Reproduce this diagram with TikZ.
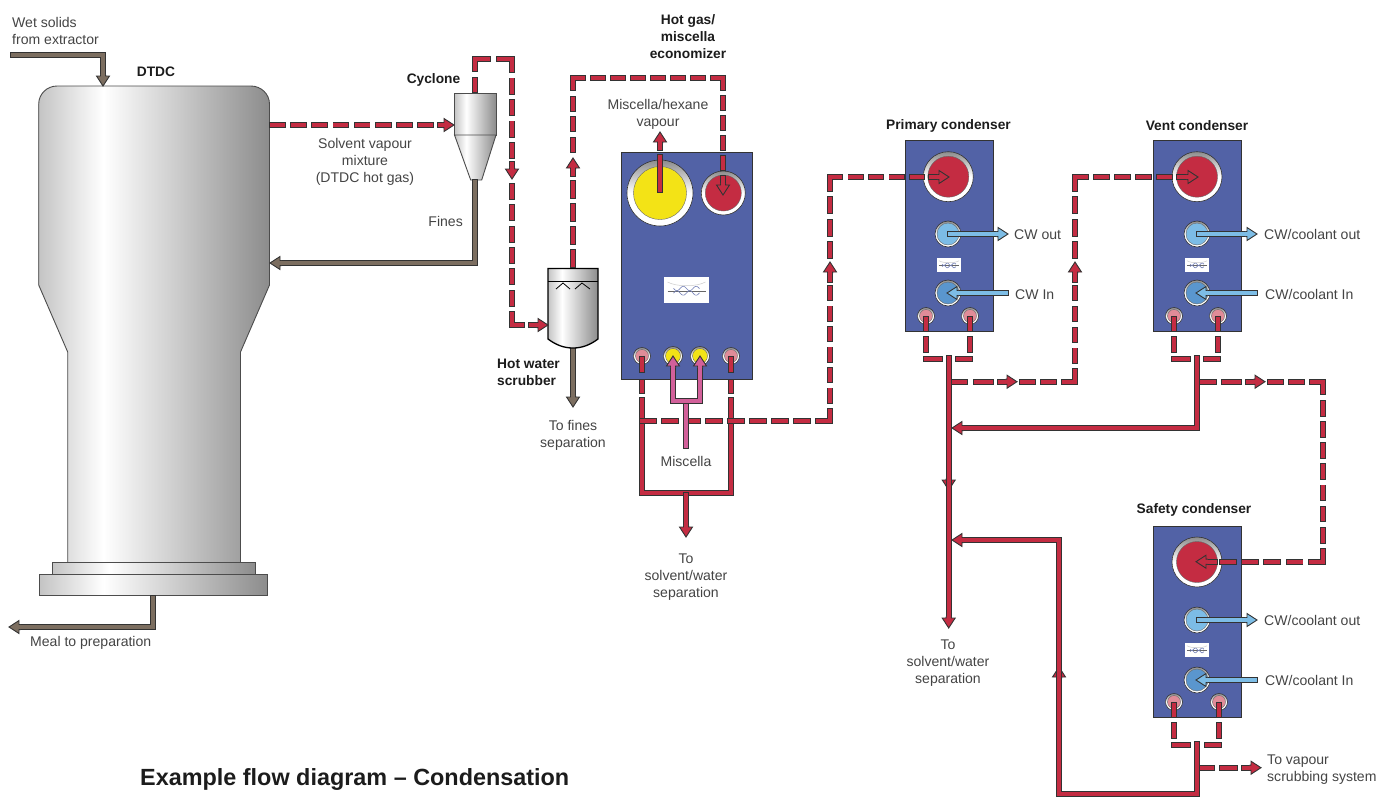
\documentclass[tikz,border=0pt]{standalone}
\usepackage{fontspec}
\setmainfont{Liberation Sans}
\usetikzlibrary{calc}
\definecolor{pred}{HTML}{C42C42}
\definecolor{pedge}{HTML}{333333}
\definecolor{pbrown}{HTML}{7C6E60}
\definecolor{pblue}{HTML}{7DBDE6}
\definecolor{ppink}{HTML}{D2609A}
\definecolor{panelblue}{HTML}{5262A6}
\definecolor{pyellow}{HTML}{F3E316}
\definecolor{portcw}{HTML}{7CBCE6}
\definecolor{portin}{HTML}{5A96CE}
\definecolor{portpink}{HTML}{E08C98}
\definecolor{txtgrey}{HTML}{444444}
\definecolor{txtdark}{HTML}{1C1C1C}
\definecolor{m1}{HTML}{C4C4C4}
\definecolor{m3}{HTML}{8C8C8C}
\definecolor{ringdark}{HTML}{8C8C8C}
\pgfdeclarehorizontalshading{metal}{100bp}{color(0bp)=(m1);color(25bp)=(m1);color(39bp)=(white);color(75bp)=(m3);color(100bp)=(m3)}
\tikzset{
  lbl/.style={font=\fontsize{14.05}{17}\selectfont,text=txtgrey,align=center,inner sep=0pt,yshift=-1.6pt},
  lbll/.style={lbl,align=left},
  lblb/.style={lbl,font=\fontsize{13.75}{17}\selectfont\bfseries,text=txtdark},
  panel/.style={rectangle,draw=pedge,line width=0.8pt,fill=panelblue,inner sep=0pt},
  logobox/.style={rectangle,fill=white,inner sep=0pt},
  metalbody/.style={draw=black!70,line width=0.9pt,shading=metal},
  ringnode/.style={circle,draw=pedge,line width=0.6pt,inner sep=0pt,top color=ringdark,bottom color=white,middle color=white},
  innernode/.style={circle,draw=black!60,line width=0.4pt,inner sep=0pt},
  pipeo/.style={draw=pedge,line width=6pt,line join=miter,shorten <=-0.9pt,shorten >=-0.9pt},
  pipei/.style={line width=4.2pt,line join=miter},
  heads/.style={draw=pedge,line width=0.9pt,line join=miter}
}
% solid pipe: outline, then core
\newcommand\pipe[2]{\draw[pipeo] #2; \draw[pipei,draw=#1] #2;}
% one dashed stretch fitted between two named points
\newcommand\dseg[4]{%
  \path let \p1=($(#2)-(#1)$),\n1={veclen(\x1,\y1)} in \pgfextra{\pgfmathsetmacro\tmpl{\n1}\xdef\dlen{\tmpl}};
  \pgfmathsetmacro\dn{max(1,round((\dlen+10.5)/21))}%
  \pgfmathsetmacro\dvis{(\dlen+6-(\dn-1)*4.5)/\dn}%
  \pgfmathsetmacro\don{max(0.1,\dvis-6)}%
  \draw[line cap=rect,line join=miter,draw=#3,line width=#4pt,dash pattern=on \don pt off 10.5pt] (#1)--(#2);
}
\newcommand\dpipe[1]{%
  \foreach \sa/\sb in {#1}{\dseg{\sa}{\sb}{pedge}{6}}%
  \foreach \sa/\sb in {#1}{\dseg{\sa}{\sb}{pred}{4.2}}%
}
% arrow head: tip at a named point
\newcommand\ahead[3]{\filldraw[heads,fill=#1,shift={(#2)},rotate=#3] (-11.5,-2.55)--(-10,-2.55)--(-10,-6.5)--(0,0)--(-10,6.5)--(-10,2.55)--(-11.5,2.55);}
% port
\newcommand\port[5]{\node (#1) [ringnode,minimum size=#3pt] at (#2) {}; \node (#1i) [innernode,fill=#5,minimum size=#4pt] at (#2) {};}
% logo
\newcommand\logo[5]{%
  \node (#1) [logobox,minimum width=#3pt,minimum height=#4pt] at (#2) {};
  \begin{scope}[shift={(#1)},scale=#5]
    \draw[black!20,line width=0.5pt] (-19,-8) .. controls (-10,-3) and (10,-3) .. (19,-8);
    \draw[black!60,line width=0.6pt] (-19,1)--(19,1);
    \draw[panelblue!80,line width=0.6pt] plot[domain=-13:13,samples=40] (\x,{-1.5+2.2*sin(\x*28)});
    \draw[panelblue!80,line width=0.6pt] plot[domain=-13:13,samples=40] (\x,{3-2.2*sin(\x*28)});
  \end{scope}}
\begin{document}
\begin{tikzpicture}[x=1pt,y=-1pt]
\useasboundingbox (0,0) rectangle (1392,796);
\foreach \cn/\cx/\cy in {
 wet0/11/55, wet1/103/55, wet2/103/80, wetT/103/86,
 fin0/475/180, fin1/475/263, fin2/276/263, finT/270/263,
 scb0/573/348, scb1/573/400, scbT/573/407,
 mea0/153/596, mea1/153/627, mea2/16/627, meaT/9/627,
 hg0/272/125, hg1/431/125, hg2/438/125, hg3/448/125, hgT/454/125,
 cy0/475/90, cy1/475/59, cy2/512/59, cy3/512/156, cy4/512/162, cy5/512/173, cyT/512/179, cy6/512/186, cy7/512/325, cy8/522/325, cy9/529/325, cy10/542/325, cyS/548/325,
 sc0/573/265, sc1/573/183, sc2/573/176, sc3/573/164, scT/573/158, sc4/573/150, sc5/573/78, sc6/723/78, sc7/723/188, scE/723/195,
 yo0/660/192, yo1/660/155, yo2/660/150, yo3/660/137, yoT/660/132,
 el0/642/357, el1/642/372, el2/642/380, el3/642/393, el4/642/398, el5/642/493,
 er0/731/357, er1/731/372, er2/731/380, er3/731/393, er4/731/398, er5/731/493,
 em0/686/493, em1/686/530, emT/686/537,
 eh0/642/421, eh1/830/421, eh2/830/288, eh3/830/282, eh4/830/268, ehT/830/262, eh5/830/256, eh6/830/177, eh7/922/177, eh8/929/177, eh9/943/177, ehE/949/177,
 mi0/686/448, mi1/686/401, mi2/673/401, mi3/700/401, mi4/673/362, mi5/700/362, mi6/673/356, mi7/700/356,
 pa0/926/317, pa1/926/331, pa2/926/337, pa3/926/352, pb0/970/317, pb1/970/331, pb2/970/337, pb3/970/352,
 pc0/924/359, pc1/942/359, pd0/956/359, pd1/972/359,
 pm0/948.7/356, pm1/948.7/622, pmT/948.7/628, pmM/948.7/490,
 pr0/950/381.7, pr1/991/381.7, pr2/998/381.7, pr3/1011/381.7, prT/1017/381.7, pr4/1022/381.7, pr5/1075/381.7, pr6/1075/288, pr7/1075/282, pr8/1075/268, prU/1075/262, pr9/1075/256, pr10/1075/177, pr11/1170/177, pr12/1177/177, pr13/1192/177, prE/1198/177,
 va0/1174/317, va1/1174/331, va2/1174/337, va3/1174/352, vb0/1218/317, vb1/1218/331, vb2/1218/337, vb3/1218/352,
 vc0/1172/359, vc1/1190/359, vd0/1204/359, vd1/1220/359,
 vm0/1197/356, vm1/1197/428, vm2/958/428, vmT/952/428,
 vr0/1199/381.7, vr1/1239/381.7, vr2/1246/381.7, vr3/1259/381.7, vrT/1265/381.7, vr4/1270/381.7, vr5/1322.7/381.7, vr6/1322.7/561.7, vr7/1222/561.7, vr8/1217/561.7, vr9/1202/561.7, vrE/1196/561.7,
 sa0/1174/703, sa1/1174/717, sa2/1174/723, sa3/1174/738, sb0/1219/703, sb1/1219/717, sb2/1219/723, sb3/1219/738,
 sc20/1172/745, sc21/1190/745, sd0/1205/745, sd1/1221/745,
 sm0/1197/742, sm1/1197/794, sm2/1059/794, sm3/1059/540, sm4/958/540, smT/952/540, smU/1059/667,
 sr0/1199/767.7, sr1/1235/767.7, sr2/1242/767.7, sr3/1255/767.7, srT/1261/767.7,
 po1a/948/234, po1b/1002/234, po1T/1008/234, pi1a/1008/293, pi1b/953/293, pi1T/947/293,
 po2a/1197/234, po2b/1251/234, po2T/1257/234, pi2a/1257/293, pi2b/1202/293, pi2T/1196/293,
 po3a/1197/620, po3b/1251/620, po3T/1257/620, pi3a/1257/680, pi3b/1202/680, pi3T/1196/680
}{\coordinate (\cn) at (\cx,\cy);}

%% DTDC vessel
\path[metalbody] (38.7,104) .. controls (38.7,94) and (47,86) .. (57,86) -- (251,86) .. controls (261,86) and (269.5,94) .. (269.5,104)
  -- (269.5,285) -- (240.5,352) -- (240.5,563) -- (67.7,563) -- (67.7,352) -- (38.7,285) -- cycle;
\path[metalbody] (52.3,562.7) rectangle (255.7,574.5);
\path[metalbody] (39.7,574.5) rectangle (267.7,595.3);

%% cyclone
\path[metalbody] (454.5,93) rectangle (496,135);
\path[metalbody] (454.5,135) -- (496,135) -- (481.7,180) -- (470.7,180) -- cycle;

%% brown pipes
\pipe{pbrown}{(wet0) -- (wet1) -- (wet2)} \ahead{pbrown}{wetT}{270}
\pipe{pbrown}{(fin0) -- (fin1) -- (fin2)} \ahead{pbrown}{finT}{180}
\pipe{pbrown}{(scb0) -- (scb1)} \ahead{pbrown}{scbT}{270}
\pipe{pbrown}{(mea0) -- (mea1) -- (mea2)} \ahead{pbrown}{meaT}{180}

%% scrubber
\path[metalbody,draw=black,line width=1.3pt] (548,268.5) -- (598,268.5) -- (598,339) .. controls (590,345) and (582,348) .. (573,348) .. controls (564,348) and (556,345) .. (548,339) -- cycle;
\draw[black,line width=1.1pt] (548,281.7) -- (598,281.7);
\draw[black,line width=0.8pt] (556,289) -- (563,283) -- (570,289) (575,289) -- (582,283) -- (590,289);

%% plate heat exchangers
\node (econ) [panel,minimum width=130.5pt,minimum height=227pt] at (686.7,265.5) {};
\node (prim) [panel,minimum width=88pt,minimum height=191pt] at (949,235.5) {};
\node (vent) [panel,minimum width=88pt,minimum height=191pt] at (1197.5,235.5) {};
\node (safe) [panel,minimum width=88pt,minimum height=191pt] at (1197,621.5) {};

\logo{lg1}{686.5,290}{45}{26}{1}
\logo{lg2}{949,265}{24}{14}{0.53}
\logo{lg3}{1197,265}{24}{14}{0.53}
\logo{lg4}{1197,650}{24}{14}{0.53}

\port{ey}{660,193}{66}{53}{pyellow}
\port{er}{723.3,193}{44}{36}{pred}
\port{e1}{642,356}{17}{13}{portpink}
\port{e2}{673,356}{19}{15}{pyellow}
\port{e3}{700,356}{19}{15}{pyellow}
\port{e4}{731,356}{17}{13}{portpink}

\port{p1}{948.3,176.7}{50}{41}{pred}
\port{p2}{948,234}{26}{22}{portcw}
\port{p3}{948,293}{26}{22}{portin}
\port{p4}{926,316}{17}{13}{portpink}
\port{p5}{970,316}{17}{13}{portpink}

\port{v1}{1197,176.7}{50}{41}{pred}
\port{v2}{1197,234}{26}{22}{portcw}
\port{v3}{1197,293}{26}{22}{portin}
\port{v4}{1174,316}{17}{13}{portpink}
\port{v5}{1218,316}{17}{13}{portpink}

\port{s1}{1197,562}{50}{41}{pred}
\port{s2}{1197,620}{26}{22}{portcw}
\port{s3}{1197,680}{26}{22}{portin}
\port{s4}{1174,702}{17}{13}{portpink}
\port{s5}{1219,702}{17}{13}{portpink}

%% cooling water
\pipe{pblue}{(po1a) -- (po1b)} \ahead{pblue}{po1T}{0}
\pipe{pblue}{(pi1a) -- (pi1b)} \ahead{pblue}{pi1T}{180}
\pipe{pblue}{(po2a) -- (po2b)} \ahead{pblue}{po2T}{0}
\pipe{pblue}{(pi2a) -- (pi2b)} \ahead{pblue}{pi2T}{180}
\pipe{pblue}{(po3a) -- (po3b)} \ahead{pblue}{po3T}{0}
\pipe{pblue}{(pi3a) -- (pi3b)} \ahead{pblue}{pi3T}{180}

%% vapour: DTDC to cyclone to scrubber to economizer
\dpipe{hg0/hg1}
\pipe{pred}{(hg2) -- (hg3)} \ahead{pred}{hgT}{0}
\dpipe{cy0/cy1,cy1/cy2,cy2/cy3}
\pipe{pred}{(cy4) -- (cy5)} \ahead{pred}{cyT}{270}
\dpipe{cy6/cy7,cy7/cy8}
\pipe{pred}{(cy9) -- (cy10)} \ahead{pred}{cyS}{0}
\dpipe{sc0/sc1}
\pipe{pred}{(sc2) -- (sc3)} \ahead{pred}{scT}{90}
\dpipe{sc4/sc5,sc5/sc6,sc6/sc7}
\ahead{pred}{scE}{270}
\pipe{pred}{(yo0) -- (yo1)}
\pipe{pred}{(yo2) -- (yo3)} \ahead{pred}{yoT}{90}

%% economizer bottom
\pipe{pred}{(el0) -- (el1)} \pipe{pred}{(el2) -- (el3)}
\pipe{pred}{(er0) -- (er1)} \pipe{pred}{(er2) -- (er3)}
\pipe{pred}{(el4) -- (el5) -- (er5) -- (er4)}
\pipe{pred}{(em0) -- (em1)} \ahead{pred}{emT}{270}
\dpipe{eh0/eh1,eh1/eh2}
\pipe{pred}{(eh3) -- (eh4)} \ahead{pred}{ehT}{90}
\dpipe{eh5/eh6,eh6/eh7}
\pipe{pred}{(eh8) -- (eh9)} \ahead{pred}{ehE}{0}

%% miscella
\pipe{ppink}{(mi0) -- (mi1)}
\pipe{ppink}{(mi4) -- (mi2) -- (mi3) -- (mi5)}
\ahead{ppink}{mi6}{90}
\ahead{ppink}{mi7}{90}

%% primary condenser outlet
\pipe{pred}{(pa0) -- (pa1)} \pipe{pred}{(pa2) -- (pa3)}
\pipe{pred}{(pb0) -- (pb1)} \pipe{pred}{(pb2) -- (pb3)}
\pipe{pred}{(pc0) -- (pc1)} \pipe{pred}{(pd0) -- (pd1)}
\ahead{pred}{pmM}{270}
\dpipe{pr0/pr1}
\pipe{pred}{(pm0) -- (pm1)} \ahead{pred}{pmT}{270}
\pipe{pred}{(pr2) -- (pr3)} \ahead{pred}{prT}{0}
\dpipe{pr4/pr5,pr5/pr6}
\pipe{pred}{(pr7) -- (pr8)} \ahead{pred}{prU}{90}
\dpipe{pr9/pr10,pr10/pr11}
\pipe{pred}{(pr12) -- (pr13)} \ahead{pred}{prE}{0}

%% vent condenser outlet
\pipe{pred}{(va0) -- (va1)} \pipe{pred}{(va2) -- (va3)}
\pipe{pred}{(vb0) -- (vb1)} \pipe{pred}{(vb2) -- (vb3)}
\pipe{pred}{(vc0) -- (vc1)} \pipe{pred}{(vd0) -- (vd1)}
\dpipe{vr0/vr1}
\pipe{pred}{(vm0) -- (vm1) -- (vm2)} \ahead{pred}{vmT}{180}
\pipe{pred}{(vr2) -- (vr3)} \ahead{pred}{vrT}{0}
\dpipe{vr4/vr5,vr5/vr6,vr6/vr7}
\pipe{pred}{(vr8) -- (vr9)} \ahead{pred}{vrE}{180}

%% safety condenser outlet
\pipe{pred}{(sa0) -- (sa1)} \pipe{pred}{(sa2) -- (sa3)}
\pipe{pred}{(sb0) -- (sb1)} \pipe{pred}{(sb2) -- (sb3)}
\pipe{pred}{(sc20) -- (sc21)} \pipe{pred}{(sd0) -- (sd1)}
\ahead{pred}{smU}{90}
\dpipe{sr0/sr1}
\pipe{pred}{(sm0) -- (sm1) -- (sm2) -- (sm3) -- (sm4)} \ahead{pred}{smT}{180}
\pipe{pred}{(sr2) -- (sr3)} \ahead{pred}{srT}{0}

%% labels
\node (t1) [lbll,anchor=west] at (12,29.5) {Wet solids\\from extractor};
\node (t2) [lblb] at (156,70) {DTDC};
\node (t3) [lblb] at (433.5,78.5) {Cyclone};
\node (t4) [lbl] at (365,160) {Solvent vapour\\mixture\\(DTDC hot gas)};
\node (t5) [lbl,anchor=east] at (463,220) {Fines};
\node (t6) [lblb] at (688,35) {Hot gas/\\miscella\\economizer};
\node (t7) [lbl] at (658,113) {Miscella/hexane\\vapour};
\node (t8) [lblb,align=left,anchor=west] at (497,370.5) {Hot water\\scrubber};
\node (t9) [lbl] at (573,433.5) {To fines\\separation};
\node (t10) [lbl] at (686,460) {Miscella};
\node (t11) [lbl] at (686,576) {To\\solvent/water\\separation};
\node (t12) [lblb] at (948.5,124) {Primary condenser};
\node (t13) [lblb] at (1197,124) {Vent condenser};
\node (t14) [lblb] at (1194,508) {Safety condenser};
\node (t15) [lbll,anchor=west] at (1014,233) {CW out};
\node (t16) [lbll,anchor=west] at (1015,293) {CW In};
\node (t17) [lbll,anchor=west] at (1264,233) {CW/coolant out};
\node (t18) [lbll,anchor=west] at (1265,293) {CW/coolant In};
\node (t19) [lbll,anchor=west] at (1264,619) {CW/coolant out};
\node (t20) [lbll,anchor=west] at (1265,679) {CW/coolant In};
\node (t21) [lbl] at (948,662) {To\\solvent/water\\separation};
\node (t22) [lbll,anchor=west] at (1267,768.5) {To vapour\\scrubbing system};
\node (t23) [lbll,anchor=west] at (30,641) {Meal to preparation};
\node (t24) [lblb,font=\fontsize{23.4}{27}\selectfont\bfseries,anchor=west] at (140,778) {Example flow diagram – Condensation};
\end{tikzpicture}
\end{document}
